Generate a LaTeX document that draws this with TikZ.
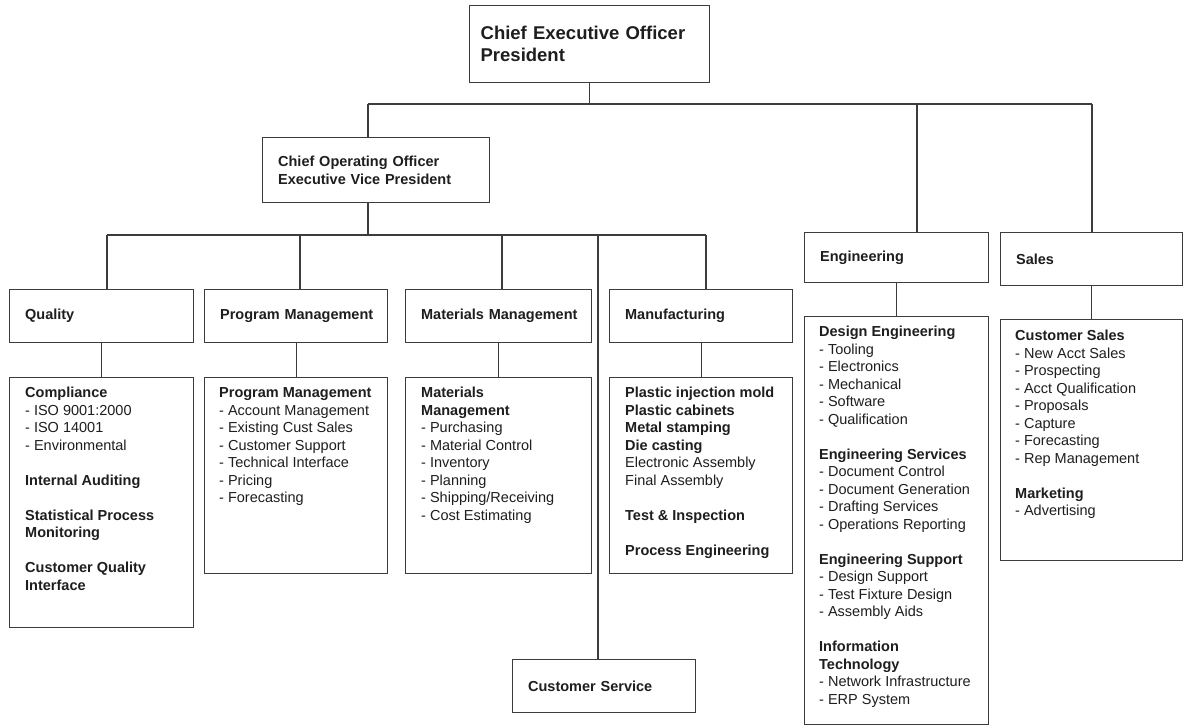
\documentclass[tikz,border=0pt]{standalone}
\usepackage{fontspec}
\setmainfont{Liberation Sans}
\usetikzlibrary{calc}
\begin{document}
\begin{tikzpicture}[x=1pt,y=-1pt,
  conn/.style={draw={rgb,255:red,60;green,60;blue,60},line width=1.3pt},
  box/.style={draw={rgb,255:red,60;green,60;blue,60},line width=1.3pt,rectangle,anchor=north west,inner ysep=0pt,inner xsep=15.5pt,align=left,text={rgb,255:red,30;green,30;blue,30},font=\fontsize{14.5}{17.5}\selectfont},
  hdr/.style={box,font=\fontsize{14.5}{17.5}\selectfont\bfseries},
  lst/.style={anchor=north west,inner sep=0pt,align=left,text={rgb,255:red,30;green,30;blue,30},font=\fontsize{14.5}{17.5}\selectfont}]
\useasboundingbox[fill=white] (0,0) rectangle (1184,727);

% top level
\node[box,inner xsep=11pt,text width=218pt,minimum height=77pt,font=\fontsize{18.5}{22}\selectfont\bfseries] (ceo) at (469,5) {Chief Executive Officer\\President};
\node[hdr,text width=196pt,minimum height=65pt] (coo) at (262,137) {Chief Operating Officer\\Executive Vice President};
\node[hdr,text width=153pt,minimum height=50pt] (eng) at (804,232) {Engineering};
\node[hdr,text width=151pt,minimum height=53pt] (sales) at (1000,232) {Sales};

% second level headers
\node[hdr,text width=153pt,minimum height=53pt] (qual) at (9,289) {Quality};
\node[hdr,text width=152pt,minimum height=53pt] (prog) at (204,289) {\mbox{Program Management}};
\node[hdr,text width=155pt,minimum height=53pt] (mat) at (405,289) {\mbox{Materials Management}};
\node[hdr,text width=152pt,minimum height=53pt] (manu) at (609,289) {Manufacturing};
\node[hdr,text width=152pt,minimum height=53pt] (cs) at (512,659) {Customer Service};

% detail boxes
\node[box,inner sep=0pt,minimum width=184pt,minimum height=250pt] (qd) at (9,377) {};
\node[box,inner sep=0pt,minimum width=183pt,minimum height=196pt] (pd) at (204,377) {};
\node[box,inner sep=0pt,minimum width=186pt,minimum height=196pt] (md) at (405,377) {};
\node[box,inner sep=0pt,minimum width=183pt,minimum height=196pt] (mfd) at (609,377) {};
\node[box,inner sep=0pt,minimum width=184pt,minimum height=408pt] (ed) at (804,316) {};
\node[box,inner sep=0pt,minimum width=182pt,minimum height=241pt] (sd) at (1000,319) {};

\node[lst] (qdt) at ($(qd.north west)+(16,8.5)$) {\strut\textbf{Compliance}\\- ISO 9001:2000\\- ISO 14001\\- Environmental\\[17.5pt]\textbf{Internal Auditing}\\[17.5pt]\textbf{Statistical Process}\\\textbf{Monitoring}\\[17.5pt]\textbf{Customer Quality}\\\textbf{Interface}};
\node[lst] (pdt) at ($(pd.north west)+(15,8.5)$) {\strut\textbf{Program Management}\\- Account Management\\- Existing Cust Sales\\- Customer Support\\- Technical Interface\\- Pricing\\- Forecasting};
\node[lst] (mdt) at ($(md.north west)+(16,8.5)$) {\strut\textbf{Materials}\\\textbf{Management}\\- Purchasing\\- Material Control\\- Inventory\\- Planning\\- Shipping/Receiving\\- Cost Estimating};
\node[lst] (mfdt) at ($(mfd.north west)+(16,8.5)$) {\strut\textbf{Plastic injection mold}\\\textbf{Plastic cabinets}\\\textbf{Metal stamping}\\\textbf{Die casting}\\Electronic Assembly\\Final Assembly\\[17.5pt]\textbf{Test \& Inspection}\\[17.5pt]\textbf{Process Engineering}};
\node[lst] (edt) at ($(ed.north west)+(15,8.5)$) {\strut\textbf{Design Engineering}\\- Tooling\\- Electronics\\- Mechanical\\- Software\\- Qualification\\[17.5pt]\textbf{Engineering Services}\\- Document Control\\- Document Generation\\- Drafting Services\\- Operations Reporting\\[17.5pt]\textbf{Engineering Support}\\- Design Support\\- Test Fixture Design\\- Assembly Aids\\[17.5pt]\textbf{Information}\\\textbf{Technology}\\- Network Infrastructure\\- ERP System};
\node[lst] (sdt) at ($(sd.north west)+(15,9.5)$) {\strut\textbf{Customer Sales}\\- New Acct Sales\\- Prospecting\\- Acct Qualification\\- Proposals\\- Capture\\- Forecasting\\- Rep Management\\[17.5pt]\textbf{Marketing}\\- Advertising};

% bus coordinates
\coordinate (t1) at (368,104);
\coordinate (te) at (917,104);
\coordinate (t2) at (1092,104);
\coordinate (u1) at (107,235);
\coordinate (u3) at (300,235);
\coordinate (u4) at (502,235);
\coordinate (u5) at (598,235);
\coordinate (u2) at (706,235);

% connectors
\draw[conn] (ceo.south) -- (ceo.south |- t1);
\draw[conn] (t1) -- (t2);
\draw[conn] (t1) -- (t1 |- coo.north);
\draw[conn] (te) -- (te |- eng.north);
\draw[conn] (t2) -- (t2 |- sales.north);
\draw[conn] (t1 |- coo.south) -- (t1 |- u1);
\draw[conn] (u1) -- (u2);
\draw[conn] (u1) -- (u1 |- qual.north);
\draw[conn] (u3) -- (u3 |- prog.north);
\draw[conn] (u4) -- (u4 |- mat.north);
\draw[conn] (u2) -- (u2 |- manu.north);
\draw[conn] (u5) -- (u5 |- cs.north);
\draw[conn] (qual.south) -- (qd.north);
\draw[conn] (prog.south) -- (pd.north);
\draw[conn] (mat.south) -- (md.north);
\draw[conn] (manu.south) -- (mfd.north);
\draw[conn] (eng.south) -- (ed.north);
\draw[conn] (sales.south) -- (sales.south |- sd.north);
\end{tikzpicture}
\end{document}
